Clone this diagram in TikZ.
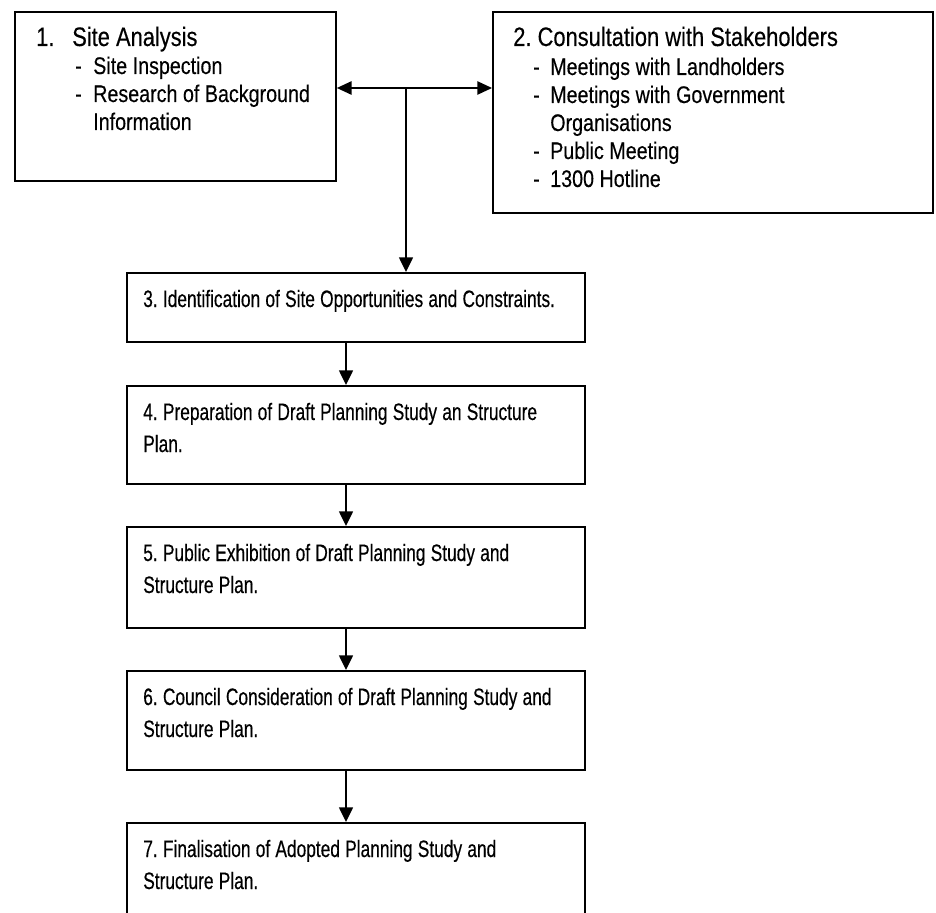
\documentclass[tikz,border=0pt]{standalone}
\usepackage{fontspec}
\setmainfont[FakeStretch=0.73,FakeBold=0.4]{Liberation Sans}
\newfontfamily\topfont[FakeStretch=0.82,FakeBold=0.3]{Liberation Sans}
\usepackage{tikz}
\usetikzlibrary{arrows.meta,calc}
\newcommand{\tightspace}[1]{\frenchspacing\spaceskip=#1em\relax}

\begin{document}
\begin{tikzpicture}
			[x=0.75pt,y=-0.75pt,line cap=butt,
			%Styles
			box/.style={draw,line width=1.4pt,rectangle,anchor=north west,inner sep=0pt},
			main text/.style={anchor=base west,inner sep=0pt,text width=420pt,align=flush left,font=\fontsize{17.8}{24}\selectfont\tightspace{0.22}},
			head text/.style={anchor=base west,inner sep=0pt,text width=300pt,align=flush left,font=\topfont\fontsize{20}{24}\selectfont\tightspace{0.23}},
			sub text/.style={anchor=base west,inner sep=0pt,text width=300pt,align=flush left,font=\topfont\fontsize{18}{21}\selectfont\tightspace{0.23}},
			flow/.style={line width=1.1pt,-{Triangle[length=11pt,width=10.5pt]}},
			both flow/.style={line width=1.1pt,{Triangle[length=11pt,width=10pt]}-{Triangle[length=11pt,width=10pt]}}
			]
			
			%Frame
			\useasboundingbox (0,0) rectangle (936,913);
			\clip (0,0) rectangle (936,913);
			
			%The boxes
			\node[box,minimum width=240.75pt,minimum height=126.75pt] (b1) at (14,11) {};
			\node[box,minimum width=330pt,minimum height=150.75pt] (b2) at (492,11) {};
			\node[box,minimum width=343.5pt,minimum height=51.75pt] (b3) at (126,272) {};
			\node[box,minimum width=343.5pt,minimum height=73.5pt] (b4) at (126,385) {};
			\node[box,minimum width=343.5pt,minimum height=75.75pt] (b5) at (126,526) {};
			\node[box,minimum width=343.5pt,minimum height=74.25pt] (b6) at (126,670) {};
			\node[box,minimum width=343.5pt,minimum height=90pt] (b7) at (126,822) {};
			
			%The texts
			\node[head text] (t1) at ($(b1.north west)+(22,35)$) {\makebox[27pt][l]{1.}Site Analysis};
			\node[sub text] (l1) at ($(b1.north west)+(61,63)$) {\makebox[13.5pt][l]{-}Site Inspection\\
				\makebox[13.5pt][l]{-}Research of Background\\
				\hspace*{13.5pt}Information};
			\node[head text] (t2) at ($(b2.north west)+(21,35)$) {2. Consultation with Stakeholders};
			\node[sub text] (l2) at ($(b2.north west)+(41,64)$) {\makebox[12.75pt][l]{-}Meetings with Landholders\\
				\makebox[12.75pt][l]{-}Meetings with Government\\
				\hspace*{12.75pt}Organisations\\
				\makebox[12.75pt][l]{-}Public Meeting\\
				\makebox[12.75pt][l]{-}1300 Hotline};
			\node[main text] (t3) at ($(b3.north west)+(17,35)$) {3. Identification of Site Opportunities and Constraints.};
			\node[main text] (t4) at ($(b4.north west)+(17,35)$) {4. Preparation of Draft Planning Study an Structure\\Plan.};
			\node[main text] (t5) at ($(b5.north west)+(17,35)$) {5. Public Exhibition of Draft Planning Study and\\Structure Plan.};
			\node[main text] (t6) at ($(b6.north west)+(17,35)$) {6. Council Consideration of Draft Planning Study and\\Structure Plan.};
			\node[main text] (t7) at ($(b7.north west)+(17,35)$) {7. Finalisation of Adopted Planning Study and\\Structure Plan.};
			
			%The arrows
			\coordinate (hub) at (406,88);
			\coordinate (ax) at (346,0);
			\draw[both flow] (b1.east |- hub) -- (b2.west |- hub);
			\draw[flow] (hub) -- (b3.north -| hub);
			\draw[flow] (b3.south -| ax) -- (b4.north -| ax);
			\draw[flow] (b4.south -| ax) -- (b5.north -| ax);
			\draw[flow] (b5.south -| ax) -- (b6.north -| ax);
			\draw[flow] (b6.south -| ax) -- (b7.north -| ax);
		\end{tikzpicture}
\end{document}
